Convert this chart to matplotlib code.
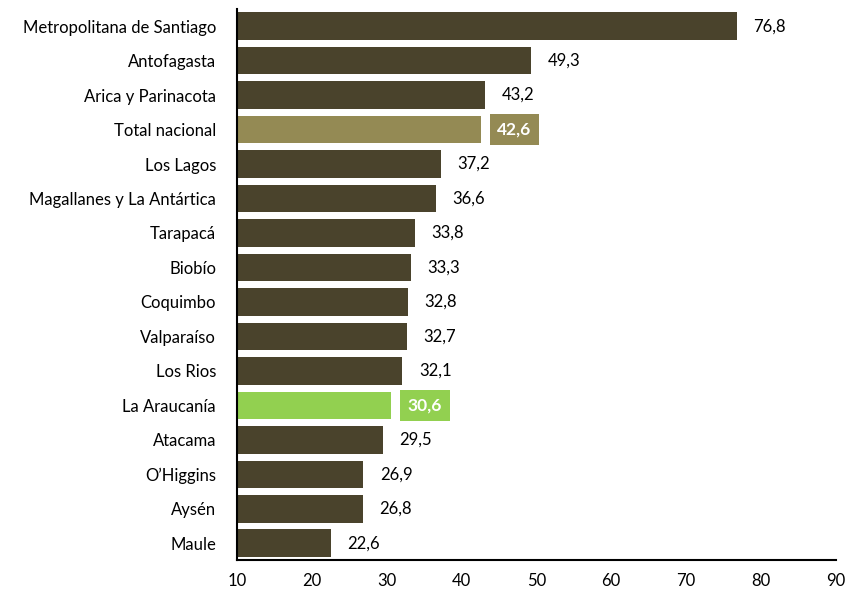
import matplotlib
matplotlib.use("Agg")
import matplotlib.pyplot as plt

regions = ["Metropolitana de Santiago", "Antofagasta", "Arica y Parinacota", "Total nacional",
           "Los Lagos", "Magallanes y La Antártica", "Tarapacá", "Biobío", "Coquimbo",
           "Valparaíso", "Los Rios", "La Araucanía", "Atacama", "O’Higgins", "Aysén", "Maule"]
values = [76.8, 49.3, 43.2, 42.6, 37.2, 36.6, 33.8, 33.3, 32.8, 32.7, 32.1, 30.6, 29.5, 26.9, 26.8, 22.6]
highlight = {"Total nacional": "#948A54", "La Araucanía": "#92D050"}
base_color = "#4A432C"
xticks = [10, 20, 30, 40, 50, 60, 70, 80, 90]

plt.rcParams['font.family'] = ['Lato', 'DejaVu Sans']

fig = plt.figure(figsize=(8.52, 5.95), dpi=100)
ax = fig.add_axes([0.278, 0.058, 0.703, 0.927])

ypos = list(range(len(regions)))
colors = [highlight.get(r, base_color) for r in regions]
left = 10
ax.barh(ypos, [v - left for v in values], left=left, height=0.8, color=colors)

for y, v, r in zip(ypos, values, regions):
    label = f"{v:.1f}".replace(".", ",")
    if r in highlight:
        ax.text(v + 2.2, y, label, va="center", ha="left", fontsize=12.5, color="white",
                fontweight="bold",
                bbox=dict(boxstyle="square,pad=0.45", facecolor=highlight[r], edgecolor="none"))
    else:
        ax.text(v + 2.2, y, label, va="center", ha="left", fontsize=12, color="black")

ax.set_yticks(ypos)
ax.set_yticklabels(regions, fontsize=12)
ax.set_ylim(len(regions) - 0.5, -0.5)
ax.set_xlim(10, 90)
ax.set_xticks(xticks)
ax.set_xticklabels([str(t) for t in xticks], fontsize=12)
ax.tick_params(axis="both", length=0)
ax.tick_params(axis="x", pad=9)
ax.tick_params(axis="y", pad=15)
for s in ["top", "right"]:
    ax.spines[s].set_visible(False)
ax.spines["left"].set_linewidth(1.5)
ax.spines["bottom"].set_linewidth(1.5)

fig.savefig("out.png", dpi=100)
